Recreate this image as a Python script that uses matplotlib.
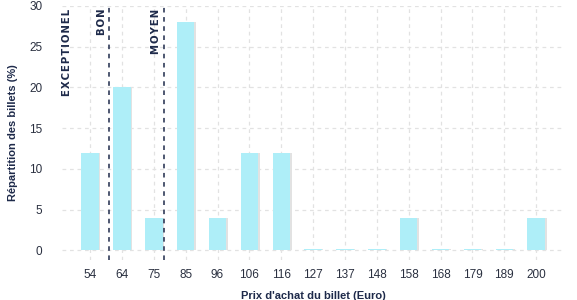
import matplotlib.pyplot as plt
import numpy as np

plt.rcParams['font.family'] = ['Liberation Sans', 'DejaVu Sans']

# données
prix = ['54', '64', '75', '85', '96', '106', '116', '127', '137', '148', '158', '168', '179', '189', '200']
repartition = [12, 20, 4, 28, 4, 12, 12, 0.1, 0.1, 0.1, 4, 0.1, 0.1, 0.1, 4]
seuils = [-0.48, 0.6, 2.31]  # position des seuils (en index de categorie)
seuils_noms = ['EXCEPTIONEL', 'BON', 'MOYEN']
seuils_ligne = [False, True, True]

bleu = '#aeeef8'
navy = '#1e2a4a'
gris = '#e2e2e2'

fig = plt.figure(figsize=(5.77, 3.00), dpi=100)
ax = fig.add_axes([0.1075, 0.1333, 0.8715, 0.8467])

x = np.arange(len(prix))
# ombre a droite des barres
ax.bar(x + 0.05, repartition, width=0.55, color='#e2e2e2', zorder=2)
ax.bar(x, repartition, width=0.55, color=bleu, zorder=3)

for pos, nom, ligne in zip(seuils, seuils_noms, seuils_ligne):
    if ligne:
        ax.axvline(pos, color=navy, linestyle=(0, (3, 3)), linewidth=1.1, zorder=4)
    # lettres un peu espacees comme dans l'original
    ax.text(pos - 0.08, 29.7, '\u200a'.join(nom), rotation=90, ha='right', va='top',
            fontsize=7.3, fontweight='bold', color=navy, family=['DejaVu Sans'])

ax.set_xlim(-0.88, 14.9)
ax.set_ylim(-1.2, 30)
ax.set_xticks(x)
ax.set_xticklabels(prix)
ax.set_yticks([0, 5, 10, 15, 20, 25, 30])
ax.tick_params(axis='both', length=0, labelsize=8.5, colors='#2a3040')
ax.tick_params(axis='y', pad=14)
ax.tick_params(axis='x', pad=6.5)
ax.grid(True, color=gris, linestyle=(0, (3, 3)), linewidth=0.9, zorder=0)
for s in ax.spines.values():
    s.set_visible(False)

ax.set_xlabel("Prix d'achat du billet (Euro)", fontsize=8, fontweight='bold', color=navy, labelpad=7)
ax.set_ylabel('Répartition des billets (%)', fontsize=8, fontweight='bold', color=navy, labelpad=8)

plt.savefig('out.png', dpi=100)
